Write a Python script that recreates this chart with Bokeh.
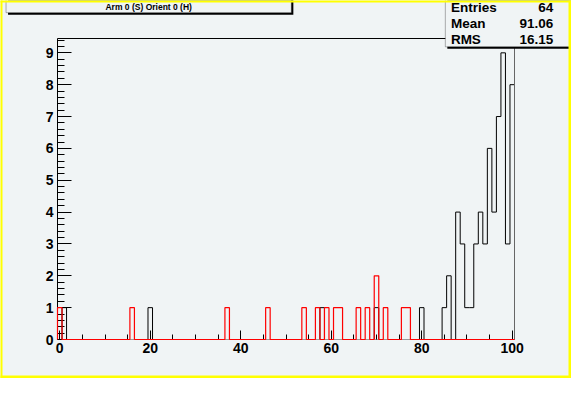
import numpy as np
from bokeh.plotting import figure
from bokeh.models import (Range1d, SingleIntervalTicker, LinearAxis, FixedTicker,
                          BoxAnnotation, Label)
from bokeh.embed import file_html
from bokeh.resources import INLINE

# ---------------- data (bin centre -> entries) ----------------
black_bins = [1, 20, 58, 70, 80, 85, 86, 88, 89, 90, 91, 92, 93, 94, 95, 96, 97, 98, 99, 100]
black_counts = [1, 1, 1, 1, 1, 1, 2, 4, 3, 1, 1, 3, 4, 3, 6, 4, 7, 9, 3, 8]
red_bins = [0, 16, 37, 46, 54, 57, 59, 61, 62, 66, 68, 70, 72, 76, 77]
red_counts = [1, 1, 1, 1, 1, 1, 1, 1, 1, 1, 1, 2, 1, 1, 1]
title_text = "Arm 0 (S) Orient 0 (H)"
stat_names = ["Entries", "Mean", "RMS"]

N_BINS = 101
X_LO, X_HI = -0.5, 100.5
Y_LO, Y_HI = 0.0, 9.45

# ---------------- layout ----------------
W, H = 571, 378
SX, SY = W / 587.0, H / 394.0
L, T, FW, FH = 57, 38, 457, 301          # pad frame inside the canvas
R = W - L - FW
B = H - T - FH
BG = "#f0f4f5"
FONT = "Liberation Sans"

kx = (X_HI - X_LO) / FW
ky = (Y_HI - Y_LO) / FH
x_range = Range1d(X_LO - L * kx, X_HI + R * kx)
y_range = Range1d(Y_LO - B * ky, Y_HI + T * ky)


def outline(bins, counts):
    h = np.zeros(N_BINS)
    for b, c in zip(bins, counts):
        h[b] = c
    edges = np.arange(N_BINS + 1) + X_LO
    xs, ys = [edges[0]], [0.0]
    for i in range(N_BINS):
        xs += [edges[i], edges[i + 1]]
        ys += [h[i], h[i]]
    xs.append(edges[-1])
    ys.append(0.0)
    return xs, ys


def cbox(l_, r_, t_, b_, level="annotation", **kw):
    return BoxAnnotation(left=l_, right=r_, top=t_, bottom=b_, level=level,
                         left_units="canvas", right_units="canvas",
                         top_units="canvas", bottom_units="canvas", **kw)


def clabel(x, y, text, align, size):
    return Label(x=x, y=y, x_units="canvas", y_units="canvas", text=text,
                 text_align=align, text_baseline="middle", text_font=FONT,
                 text_font_style="bold", text_font_size=size, text_color="black")


p = figure(width=W, height=H, output_backend="svg", toolbar_location=None,
           x_range=x_range, y_range=y_range,
           background_fill_color=BG, border_fill_color=BG)
p.min_border_left = p.min_border_right = p.min_border_top = p.min_border_bottom = 0
p.outline_line_color = None
p.xgrid.visible = False
p.ygrid.visible = False


def style_axis(ax):
    ax.major_label_text_font = FONT
    ax.major_label_text_font_style = "bold"
    ax.major_label_text_font_size = "14px"
    ax.major_label_text_color = "black"
    ax.major_tick_line_color = "black"
    ax.minor_tick_line_color = "black"


xa = p.xaxis[0]
xa.fixed_location = Y_LO
xa.bounds = (X_LO, X_HI)
xa.ticker = SingleIntervalTicker(interval=20, num_minor_ticks=4)
xa.major_tick_in, xa.major_tick_out = 9, 0
xa.minor_tick_in, xa.minor_tick_out = 5, 0
xa.axis_line_color = "#999999"
xa.major_label_standoff = 3
style_axis(xa)

ya = p.yaxis[0]
ya.fixed_location = X_LO
ya.bounds = (Y_LO, Y_HI)
ya.ticker = SingleIntervalTicker(interval=1, num_minor_ticks=5)
ya.major_tick_in, ya.major_tick_out = 14, 0
ya.minor_tick_in, ya.minor_tick_out = 7, 0
ya.axis_line_color = "black"
ya.major_label_standoff = 4
style_axis(ya)

# top and right edges of the frame
for loc, fixed, bnds, col in (("above", Y_HI, (X_LO, X_HI), "black"),
                              ("right", X_HI, (Y_LO, Y_HI), "#666666")):
    ax = LinearAxis(ticker=FixedTicker(ticks=[]), axis_line_color=col,
                    fixed_location=fixed, bounds=bnds,
                    major_tick_in=0, major_tick_out=0, minor_tick_in=0, minor_tick_out=0,
                    major_label_text_font_size="0px")
    p.add_layout(ax, loc)

bx, by = outline(black_bins, black_counts)
p.line(bx, by, line_color="black", line_width=1)
rx, ry = outline(red_bins, red_counts)
p.line(rx, ry, line_color="red", line_width=1.2, level="annotation")

# ---------------- title box ----------------
tl, tr, tb = 5.7 * SX, 299 * SX, 12.7 * SY
p.add_layout(cbox(tl + 2, tr + 2, -10, tb + 2, fill_color="black", fill_alpha=1, line_color=None))
p.add_layout(cbox(tl, tr, -10, tb, fill_color=BG, fill_alpha=1, line_color="black", line_width=1))
p.add_layout(clabel((tl + tr) / 2, 6.6 * SY, title_text, "center", "8.5px"))

# ---------------- stats box ----------------
entries = int(sum(black_counts))
vals = np.repeat(black_bins, black_counts).astype(float)
mean = vals.mean()
rms = vals.std()
stat_vals = [f"{entries}", f"{mean:.2f}", f"{rms:.2f}"]

sl, sb = 457.3 * SX, 48.3 * SY
p.add_layout(cbox(sl + 2, W + 20, -10, sb + 2, fill_color="black", fill_alpha=1, line_color=None))
p.add_layout(cbox(sl, W + 20, -10, sb, fill_color=BG, fill_alpha=1, line_color="black", line_width=1))
row_y = [7.3, 24.3, 40.7]
for name, v, ry_ in zip(stat_names, stat_vals, row_y):
    p.add_layout(clabel(463 * SX, ry_ * SY, name, "left", "13.5px"))
    p.add_layout(clabel(568.3 * SX, ry_ * SY, v, "right", "13.5px"))

# ---------------- yellow canvas border ----------------
for l_, r_, t_, b_ in ((-10, 2, -10, H + 10), (-10, W + 10, -10, 2),
                       (W - 3, W + 10, -10, H + 10), (-10, W + 10, H - 3, H + 10)):
    p.add_layout(cbox(l_, r_, t_, b_, level="overlay", fill_color="#ffff00",
                      fill_alpha=1, line_color=None))

open("out.html", "w").write(file_html(p, INLINE))
